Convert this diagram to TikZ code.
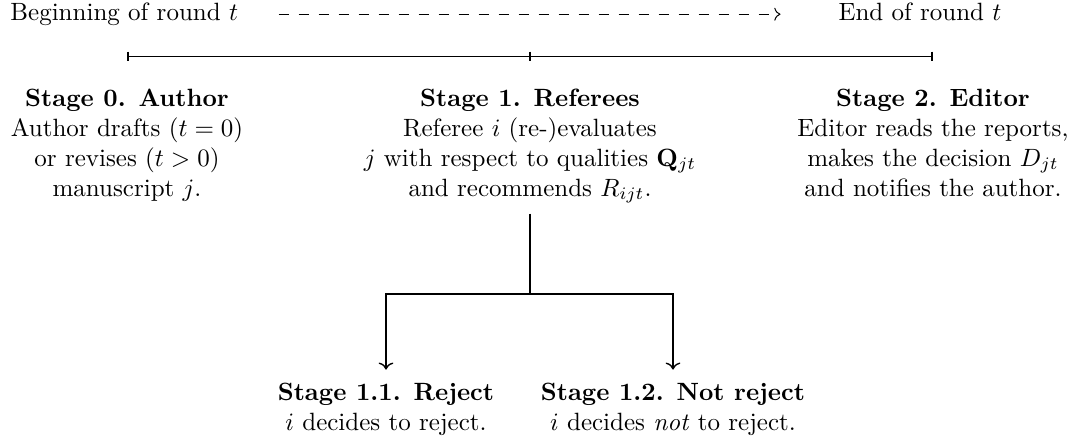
\documentclass[tikz,border=0pt]{standalone}
\usetikzlibrary{arrows.meta}
\newcommand\stagelines[1]{\vtop{\halign{\hfil##\hfil\cr#1\crcr}}}
\begin{document}
\begin{tikzpicture}[x=0.4pt,y=-0.4pt,
  txt/.style={inner sep=0pt, anchor=base},
  timeline/.style={line width=0.4pt},
  tickmark/.style={line width=0.9pt},
  branch/.style={line width=0.55pt},
  roundarrow/.style={line width=0.4pt, dash pattern=on 4pt off 4pt, ->}]
\useasboundingbox (0,0) rectangle (1080,443);
\node[txt, anchor=base west] (begin) at (10,20.7) {Beginning of round $t$};
\node[txt, anchor=base west] (end) at (838,20.7) {End of round $t$};
\draw[roundarrow] ([xshift=16pt,yshift=2.6pt]begin.base east) -- ([xshift=-23pt,yshift=2.6pt]end.base west);

\coordinate (t0) at (128,56);
\coordinate (t1) at (530,56);
\coordinate (t2) at (932,56);
\draw[timeline] (t0) -- (t2);
\foreach \c in {t0,t1,t2} \draw[tickmark] ([yshift=1.8pt]\c) -- ([yshift=-1.8pt]\c);

\node[txt] (s0) at (127,106) {\stagelines{\textbf{Stage 0. Author}\cr Author drafts ($t=0$)\cr or revises ($t>0$)\cr manuscript $j$.}};
\node[txt] (s1) at (530,106) {\stagelines{\textbf{Stage 1. Referees}\cr Referee $i$ (re-)evaluates\cr $j$ with respect to qualities $\mathbf{Q}_{jt}$\cr and recommends $R_{ijt}$.}};
\node[txt] (s2) at (933,106) {\stagelines{\textbf{Stage 2. Editor}\cr Editor reads the reports,\cr makes the decision $D_{jt}$\cr and notifies the author.}};
\node[txt] (s11) at (386,400) {\stagelines{\textbf{Stage 1.1. Reject}\cr $i$ decides to reject.}};
\node[txt] (s12) at (673,400) {\stagelines{\textbf{Stage 1.2. Not reject}\cr $i$ decides \emph{not} to reject.}};

\coordinate (split) at (530,294);
\draw[branch] ([yshift=-4pt]s1.south) -- (split);
\draw[branch,->] (split) -| ([yshift=5pt]s11.north);
\draw[branch,->] (split) -| ([yshift=5pt]s12.north);
\end{tikzpicture}
\end{document}
